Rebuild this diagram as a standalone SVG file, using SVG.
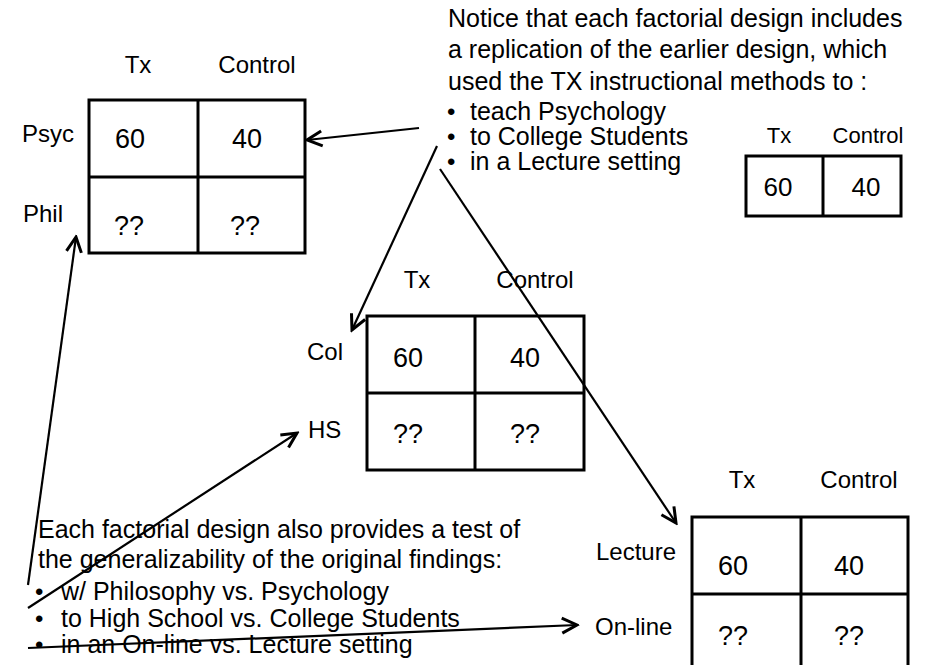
<svg xmlns="http://www.w3.org/2000/svg" width="936" height="665" viewBox="0 0 936 665">
<defs>
<style>
text{font-family:"Liberation Sans",Arial,sans-serif;fill:#000}
.lbl{font-size:24px}
.num{font-size:27px;text-anchor:middle}
.hd{font-size:24px;text-anchor:middle}
.para{font-size:25px}
.bul{font-size:24px}
.grid{fill:#fff;stroke:#000;stroke-width:3}
.gl{stroke:#000;stroke-width:3}
.con{stroke:#000;stroke-width:2.2;fill:none;marker-end:url(#arr)}
</style>
<marker id="arr" markerUnits="userSpaceOnUse" markerWidth="20" markerHeight="20" viewBox="-14 -8 16 16" refX="0" refY="0" orient="auto">
<path d="M-12,-6 L0,0 L-12,6" fill="none" stroke="#000" stroke-width="2.4"/>
</marker>
</defs>
<rect width="936" height="665" fill="#fff"/>

<g id="note-top">
<text class="para" x="448" y="27">Notice that each factorial design includes</text>
<text class="para" x="448" y="58">a replication of the earlier design, which</text>
<text class="para" x="448" y="90">used the TX instructional methods to :</text>
<text class="bul" x="447" y="120">•</text>
<text class="bul" x="447" y="145">•</text>
<text class="bul" x="447" y="170">•</text>
<text class="para" x="470" y="120">teach Psychology</text>
<text class="para" x="470" y="145">to College Students</text>
<text class="para" x="470" y="170">in a Lecture setting</text>
</g>

<g id="table-original">
<rect class="grid" x="746" y="156" width="155" height="60"/>
<line class="gl" x1="823" y1="156" x2="823" y2="216" stroke-width="2"/>
<text x="779" y="143" style="font-size:22px;text-anchor:middle">Tx</text>
<text x="868" y="143" style="font-size:22px;text-anchor:middle">Control</text>
<text x="778" y="196" style="font-size:26px;text-anchor:middle">60</text>
<text x="866" y="196" style="font-size:26px;text-anchor:middle">40</text>
</g>

<g id="table-subject">
<rect class="grid" x="89" y="100" width="216" height="153"/>
<line class="gl" x1="198" y1="100" x2="198" y2="253"/>
<line class="gl" x1="89" y1="177" x2="305" y2="177"/>
<text class="hd" x="138" y="73">Tx</text>
<text class="hd" x="257" y="73">Control</text>
<text class="lbl" x="22" y="142">Psyc</text>
<text class="lbl" x="23" y="222">Phil</text>
<text class="num" x="130" y="148">60</text>
<text class="num" x="247" y="148">40</text>
<text class="num" x="129" y="235">??</text>
<text class="num" x="245" y="235">??</text>
</g>

<g id="table-population">
<rect class="grid" x="367" y="316" width="217" height="154"/>
<line class="gl" x1="475" y1="316" x2="475" y2="470"/>
<line class="gl" x1="367" y1="393" x2="584" y2="393"/>
<text class="hd" x="417" y="288">Tx</text>
<text class="hd" x="535" y="288">Control</text>
<text class="lbl" x="307" y="360">Col</text>
<text class="lbl" x="308" y="438">HS</text>
<text class="num" x="408" y="367">60</text>
<text class="num" x="525" y="367">40</text>
<text class="num" x="408" y="443">??</text>
<text class="num" x="525" y="443">??</text>
</g>

<g id="table-setting">
<rect class="grid" x="692" y="517" width="216" height="160"/>
<line class="gl" x1="801" y1="517" x2="801" y2="677"/>
<line class="gl" x1="692" y1="594" x2="908" y2="594"/>
<text class="hd" x="742" y="488">Tx</text>
<text class="hd" x="859" y="488">Control</text>
<text class="lbl" x="596" y="560">Lecture</text>
<text class="lbl" x="595" y="635">On-line</text>
<text class="num" x="733" y="575">60</text>
<text class="num" x="849" y="575">40</text>
<text class="num" x="733" y="645">??</text>
<text class="num" x="849" y="645">??</text>
</g>

<g id="note-bottom">
<text class="para" x="38" y="538">Each factorial design also provides a test of</text>
<text class="para" x="38" y="568">the generalizability of the original findings:</text>
<text class="bul" x="35" y="600">•</text>
<text class="bul" x="35" y="627">•</text>
<text class="bul" x="35" y="653">•</text>
<text class="para" x="61" y="600">w/ Philosophy vs. Psychology</text>
<text class="para" x="61" y="627">to High School vs. College Students</text>
<text class="para" x="61" y="653">in an On-line vs. Lecture setting</text>
</g>

<g id="connectors">
<line class="con" x1="419" y1="128" x2="307" y2="140"/>
<line class="con" x1="437" y1="146" x2="352" y2="330"/>
<line class="con" x1="440" y1="169" x2="676" y2="523"/>
<line class="con" x1="28" y1="585" x2="76" y2="237"/>
<line class="con" x1="28" y1="608" x2="297" y2="433"/>
<line class="con" x1="28" y1="648" x2="577" y2="625"/>
</g>
</svg>
